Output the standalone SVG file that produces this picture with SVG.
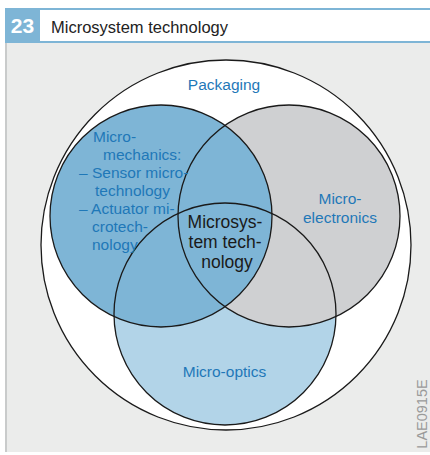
<svg xmlns="http://www.w3.org/2000/svg" width="430" height="455" viewBox="0 0 430 455">
  <style>
    .lbl { font-family: "Liberation Sans", Arial, sans-serif; font-size: 15.5px; fill: #1f78b8; }
    .ctr { font-family: "Liberation Sans", Arial, sans-serif; font-size: 17.5px; fill: #1a1a1a; text-anchor: middle; }
    .ring { stroke: #1a1a1a; stroke-width: 1.3; }
  </style>
  <rect x="0" y="0" width="430" height="455" fill="#ffffff"/>
  <!-- header -->
  <rect x="5" y="8" width="425" height="2" fill="#7eb5d6"/>
  <rect x="5" y="41" width="425" height="2" fill="#7eb5d6"/>
  <rect x="5" y="8" width="35" height="35" fill="#7eb5d6"/>
  <text x="22.5" y="33" font-family="Liberation Sans, Arial, sans-serif" font-size="21" font-weight="bold" fill="#ffffff" text-anchor="middle">23</text>
  <text x="51" y="33" font-family="Liberation Sans, Arial, sans-serif" font-size="16.5" fill="#222222">Microsystem technology</text>
  <!-- panel -->
  <rect x="5" y="43" width="425" height="409" fill="#ebeceb"/>
  <rect x="5" y="43" width="2" height="409" fill="#c9cbcb"/>

  <g id="packaging">
    <circle cx="226" cy="245" r="185" fill="#ffffff" class="ring"/>
    <text class="lbl" x="224" y="90" text-anchor="middle">Packaging</text>
  </g>
  <g id="micro-optics">
    <circle cx="225" cy="314" r="111" fill="#b2d4e8"/>
  </g>
  <g id="micro-electronics">
    <circle cx="289" cy="216" r="111" fill="#cfd0d2"/>
  </g>
  <g id="micro-mechanics">
    <circle cx="161" cy="216" r="111" fill="#7eb5d6"/>
  </g>
  <g id="outlines" fill="none">
    <circle cx="225" cy="314" r="111" class="ring"/>
    <circle cx="289" cy="216" r="111" class="ring"/>
    <circle cx="161" cy="216" r="111" class="ring"/>
  </g>
  <g id="micro-mechanics-label" class="lbl">
    <text x="93" y="142">Micro-</text>
    <text x="103" y="160">mechanics:</text>
    <text x="79" y="178">– Sensor micro-</text>
    <text x="95" y="196">technology</text>
    <text x="79" y="214">– Actuator mi-</text>
    <text x="92" y="232">crotech-</text>
    <text x="92" y="250">nology</text>
  </g>
  <g id="micro-electronics-label" class="lbl" text-anchor="middle">
    <text x="340" y="204">Micro-</text>
    <text x="340" y="223">electronics</text>
  </g>
  <g id="micro-optics-label" class="lbl" text-anchor="middle">
    <text x="224.5" y="377">Micro-optics</text>
  </g>
  <g id="microsystem-technology">
    <text class="ctr" x="225" y="228">Microsys-</text>
    <text class="ctr" x="225" y="248">tem tech-</text>
    <text class="ctr" x="227" y="268">nology</text>
  </g>
  <text x="427" y="414" transform="rotate(-90 427 414)" font-family="Liberation Sans, Arial, sans-serif" font-size="14.5" fill="#9a9a9a" text-anchor="middle">LAE0915E</text>
</svg>
